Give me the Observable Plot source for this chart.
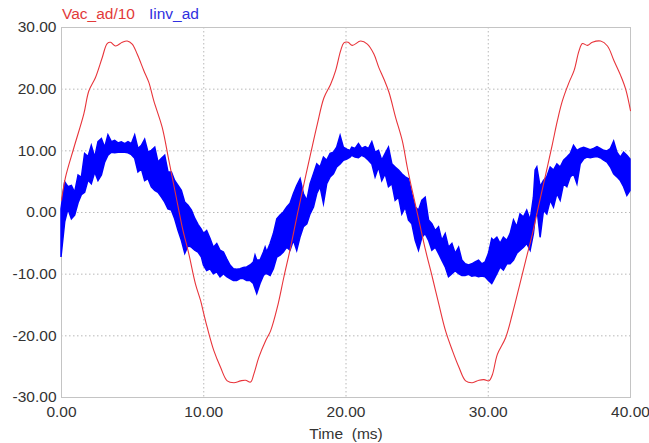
<!DOCTYPE html>
<html><head><meta charset="utf-8">
<script src="https://cdn.jsdelivr.net/npm/d3@7"></script>
<script src="https://cdn.jsdelivr.net/npm/@observablehq/plot@0.6"></script>
<style>
body{margin:0;background:#fff;font-family:"Liberation Sans",Arial,sans-serif;}
#legend{position:relative;height:14px;font-size:15.5px;z-index:1;}
#legend span{position:absolute;top:5px;white-space:pre;}
#chart svg{display:block;}
</style></head><body>
<div id="legend"></div>
<div id="chart"></div>
<script>
// Series names and colours
const seriesNames = ["Vac_ad/10", "Iinv_ad"];
const seriesColors = ["#e8343a", "#0000ff"];
const legendColors = ["#e23a3a", "#3030e0"];

// Axis ticks
const xTicks = [0, 10, 20, 30, 40];
const yTicks = [-30, -20, -10, 0, 10, 20, 30];

// Vac_ad/10 (red)
const vacTime = [0, 0.28, 0.87, 1.57, 1.92, 2.39, 2.86, 3.21, 3.45, 3.80, 4.27, 4.62, 4.97, 5.32, 5.79, 6.14, 6.49, 7.08, 7.55, 8.02, 8.49, 8.95, 9.42, 9.78, 10.0, 10.24, 10.71, 11.18, 11.65, 12.12, 12.59, 12.94, 13.29, 13.52, 13.87, 14.35, 14.70, 15.17, 15.63, 16.10, 16.58, 17.04, 17.51, 17.98, 18.45, 18.92, 19.27, 19.62, 19.85, 20.15, 20.44, 21.03, 21.50, 21.96, 22.31, 22.67, 23.02, 23.49, 23.96, 24.31, 24.66, 25.13, 25.60, 26.07, 26.53, 27.00, 27.48, 27.94, 28.41, 28.88, 29.35, 29.70, 30.05, 30.29, 30.64, 31.22, 31.69, 32.16, 32.63, 33.10, 33.57, 34.04, 34.51, 34.86, 35.21, 35.68, 36.03, 36.38, 36.62, 36.97, 37.32, 37.90, 38.38, 38.84, 39.31, 39.66, 40.0];
const vacValue = [2.0, 5.7, 10.5, 16.0, 19.7, 21.9, 25.1, 27.4, 27.6, 27.0, 27.6, 27.8, 27.3, 25.7, 23.0, 21.1, 18.1, 13.8, 8.4, 3.0, -2.4, -6.7, -11.6, -14.3, -16.4, -18.6, -22.4, -25.1, -27.3, -27.6, -27.3, -27.2, -27.5, -26.2, -23.5, -20.8, -19.2, -15.4, -10.5, -5.7, -0.3, 4.6, 9.5, 14.3, 18.6, 20.8, 23.0, 26.2, 27.5, 27.6, 27.1, 27.8, 27.3, 25.7, 23.5, 21.6, 19.5, 15.4, 11.6, 7.3, 3.5, -1.3, -6.2, -10.5, -14.9, -19.2, -22.4, -25.1, -27.3, -27.6, -27.2, -27.1, -27.3, -26.3, -23.0, -20.3, -16.5, -12.2, -7.8, -3.5, 1.4, 6.2, 11.1, 14.9, 18.1, 21.1, 23.0, 26.2, 27.4, 27.1, 27.6, 27.8, 27.0, 24.6, 22.2, 20.0, 16.5];

const iinvTime = [0.0, 0.26, 0.49, 0.73, 0.96, 1.2, 1.43, 1.66, 1.9, 2.13, 2.37, 2.6, 2.84, 3.07, 3.3, 3.54, 3.77, 4.01, 4.24, 4.48, 4.71, 4.95, 5.18, 5.41, 5.65, 5.88, 6.12, 6.35, 6.59, 6.82, 7.06, 7.29, 7.52, 7.76, 7.99, 8.23, 8.46, 8.70, 8.93, 9.17, 9.40, 9.63, 9.87, 10.01, 10.24, 10.48, 10.71, 10.95, 11.18, 11.42, 11.65, 11.88, 12.12, 12.35, 12.59, 12.82, 13.05, 13.29, 13.52, 13.64, 13.76, 13.99, 14.23, 14.35, 14.46, 14.70, 14.93, 15.17, 15.40, 15.63, 15.87, 16.10, 16.34, 16.57, 16.81, 17.04, 17.28, 17.51, 17.75, 17.98, 18.21, 18.45, 18.68, 18.92, 19.15, 19.38, 19.62, 19.85, 20.09, 20.32, 20.44, 20.67, 20.91, 21.14, 21.38, 21.61, 21.85, 22.08, 22.32, 22.55, 22.79, 23.02, 23.26, 23.49, 23.73, 23.96, 24.2, 24.43, 24.66, 24.9, 25.13, 25.37, 25.6, 25.84, 26.07, 26.31, 26.54, 26.77, 27.01, 27.24, 27.48, 27.71, 27.95, 28.18, 28.41, 28.65, 28.88, 29.11, 29.35, 29.58, 29.81, 30.05, 30.28, 30.4, 30.64, 30.87, 31.1, 31.34, 31.57, 31.81, 32.04, 32.27, 32.51, 32.74, 32.98, 33.21, 33.33, 33.45, 33.68, 33.92, 34.15, 34.39, 34.62, 34.86, 35.09, 35.33, 35.56, 35.8, 36.03, 36.27, 36.5, 36.74, 36.97, 37.2, 37.44, 37.68, 37.91, 38.15, 38.38, 38.62, 38.85, 39.08, 39.32, 39.55, 39.78, 40.0];
const iinvHigh = [0.5, 4.9, 4.1, 4.3, 3.2, 6.0, 5.6, 9.5, 9.0, 10.8, 8.9, 11.4, 11.9, 10.5, 12.5, 11.4, 11.6, 11.2, 11.4, 11.1, 11.4, 11.1, 12.5, 10.3, 10.8, 11.8, 9.7, 10.0, 10.5, 8.1, 8.7, 9.2, 6.5, 6.5, 5.1, 4.3, 3.5, 1.6, 1.1, 0.3, -1.0, -2.0, -2.8, -3.5, -3.0, -4.3, -5.7, -5.1, -6.2, -6.5, -7.6, -8.6, -9.2, -9.3, -9.2, -9.0, -8.9, -8.6, -8.1, -7.0, -7.8, -7.8, -6.5, -5.7, -6.5, -5.1, -3.5, -1.1, -0.5, 0.0, 0.8, 1.4, 3.0, 4.3, 5.4, 3.0, 1.9, 4.6, 6.2, 7.8, 7.3, 8.9, 8.4, 9.5, 9.7, 10.5, 12.4, 10.5, 10.2, 10.0, 10.5, 10.3, 11.1, 10.3, 10.6, 10.3, 11.4, 9.7, 10.0, 8.4, 9.5, 10.5, 7.8, 7.3, 6.8, 6.2, 5.7, 5.4, 3.0, 0.8, 0.3, 1.9, 2.4, -1.3, -1.9, -3.0, -2.4, -4.6, -3.5, -5.7, -5.1, -6.7, -5.7, -7.8, -8.4, -8.6, -8.4, -8.1, -7.8, -8.4, -8.1, -6.7, -4.3, -4.6, -4.1, -5.1, -4.1, -4.6, -3.5, -1.3, -2.4, -0.3, -0.8, 0.3, -1.3, 2.4, 6.8, 7.3, 4.1, 5.1, 5.7, 7.3, 6.8, 7.8, 7.3, 8.4, 8.9, 9.5, 10.8, 10.0, 10.3, 10.5, 10.3, 10.1, 10.3, 10.6, 10.3, 10.0, 9.9, 10.3, 11.5, 9.7, 8.9, 9.7, 9.2, 8.6];
const iinvLow = [-7.3, -1.6, 0.5, -1.1, -0.5, 1.5, 2.8, 3.2, 5.2, 4.6, 6.5, 5.1, 6.0, 8.1, 9.2, 9.7, 9.6, 9.7, 9.7, 9.7, 9.6, 9.3, 8.7, 6.5, 7.0, 5.1, 5.4, 4.1, 3.5, 3.2, 2.4, 1.6, 0.5, 0.3, -1.1, -3.0, -4.6, -6.7, -5.5, -5.7, -6.2, -6.5, -7.3, -8.6, -9.5, -9.2, -10.0, -9.7, -10.5, -10.0, -10.5, -10.8, -11.1, -11.1, -10.8, -10.8, -11.1, -11.1, -11.6, -12.4, -13.2, -11.6, -10.3, -10.0, -10.0, -10.3, -9.2, -7.3, -7.0, -6.5, -5.7, -6.2, -4.6, -6.2, -4.0, -2.4, -1.9, -0.3, 0.8, 3.0, 4.1, 1.4, 4.6, 5.7, 6.2, 7.3, 7.8, 8.4, 8.6, 8.9, 9.2, 8.9, 8.8, 9.2, 8.9, 8.4, 7.8, 5.7, 7.3, 5.1, 6.2, 4.1, 4.6, 1.9, 2.4, -0.3, 0.8, -1.3, -1.9, -4.6, -6.2, -4.1, -3.5, -4.6, -6.2, -5.7, -6.7, -7.8, -8.9, -10.5, -10.0, -9.5, -10.0, -10.3, -10.3, -10.1, -10.4, -10.3, -10.5, -10.4, -10.5, -11.1, -11.6, -11.1, -10.0, -8.9, -9.4, -8.4, -8.4, -7.8, -6.7, -6.2, -5.7, -5.1, -6.2, -3.5, -1.0, 0.8, -4.1, 0.3, -0.3, 1.9, 0.8, 3.0, 1.9, 4.6, 4.1, 5.7, 6.2, 4.6, 7.8, 8.6, 8.9, 8.8, 8.9, 9.0, 8.8, 8.4, 8.1, 7.3, 6.2, 5.7, 5.1, 4.1, 2.7, 3.5];

// Legend (HTML, above the SVG)
const legendLeft = [62, 149];
const legend = document.getElementById("legend");
seriesNames.forEach((name, i) => {
  const s = document.createElement("span");
  s.textContent = name;
  s.style.left = legendLeft[i] + "px";
  s.style.color = legendColors[i];
  legend.appendChild(s);
});

const vac = vacTime.map((t, i) => ({t, v: vacValue[i]}));
const iinv = iinvTime.map((t, i) => ({t, hi: iinvHigh[i], lo: iinvLow[i]}));
const fmt = d3.formatLocale({decimal: ".", thousands: ",", grouping: [3], currency: ["$", ""], minus: "-"}).format(".2f");
const gridStyle = {stroke: "#b8b8b8", strokeOpacity: 1, strokeDasharray: "1.5,2.5"};

const chart = Plot.plot({
  width: 649,
  height: 429,
  marginLeft: 61,
  marginRight: 19,
  marginTop: 13,
  marginBottom: 46,
  style: {fontFamily: "'Liberation Sans', Arial, sans-serif", fontSize: "15.5px", color: "#333", background: "transparent"},
  x: {domain: [0, 40]},
  y: {domain: [-30, 30]},
  marks: [
    Plot.gridX(xTicks.slice(1, -1), gridStyle),
    Plot.gridY(yTicks.slice(1, -1), gridStyle),
    Plot.frame({stroke: "#c4c4c4"}),
    Plot.areaY(iinv, {x: "t", y1: "lo", y2: "hi", fill: seriesColors[1], stroke: seriesColors[1], strokeWidth: 1.5, strokeLinejoin: "miter", strokeMiterlimit: 6}),
    Plot.line(vac, {x: "t", y: "v", stroke: seriesColors[0], strokeWidth: 1.1, curve: "catmull-rom"}),
    Plot.axisX(xTicks, {tickSize: 0, tickPadding: 8, tickFormat: fmt, label: "Time  (ms)", labelAnchor: "center", labelArrow: "none", labelOffset: 41}),
    Plot.axisY(yTicks, {tickSize: 0, tickPadding: 5, tickFormat: fmt, label: null})
  ]
});
document.getElementById("chart").appendChild(chart);
</script>
</body></html>
